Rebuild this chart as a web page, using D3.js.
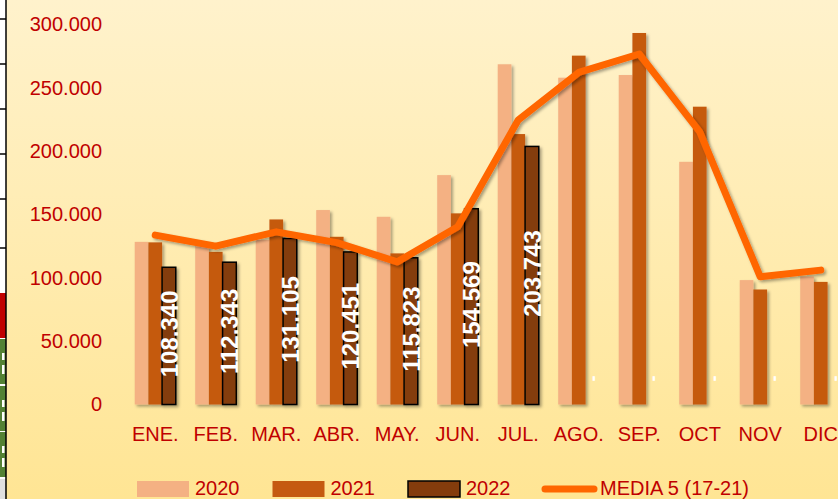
<!DOCTYPE html>
<html>
<head>
<meta charset="utf-8">
<script src="https://cdn.jsdelivr.net/npm/d3@7"></script>
<style>
  body { margin: 0; padding: 0; overflow: hidden; }
  svg { display: block; font-family: "Liberation Sans", Arial, sans-serif; }
</style>
</head>
<body>
<svg id="chart" width="838" height="499"></svg>
<script>
// data
const months = ['ENE.', 'FEB.', 'MAR.', 'ABR.', 'MAY.', 'JUN.', 'JUL.', 'AGO.', 'SEP.', 'OCT', 'NOV', 'DIC'];
const series = ['2020', '2021', '2022'];
const values2020 = [128400, 125000, 130000, 153500, 148200, 181100, 268600, 258000, 260100, 191600, 98200, 101000];
const values2021 = [128000, 120500, 146100, 132400, 119300, 150900, 213500, 275400, 293300, 235100, 90800, 96800];
const values2022 = [108340, 112343, 131105, 120451, 115823, 154569, 203743, null, null, null, null, null];
const media = [133700, 125000, 136300, 127800, 112600, 140300, 224600, 262200, 276700, 215300, 100800, 106100];
const mediaName = 'MEDIA 5 (17-21)';
const yTicks = [0, 50000, 100000, 150000, 200000, 250000, 300000];

const width = 838, height = 499;
const svg = d3.select('#chart');
const defs = svg.append('defs');

// background gradient
const grad = defs.append('linearGradient').attr('id', 'bg')
  .attr('x1', 0).attr('y1', 0).attr('x2', 0).attr('y2', 1);
grad.append('stop').attr('offset', '0%').attr('stop-color', '#fff2cc');
grad.append('stop').attr('offset', '100%').attr('stop-color', '#ffe594');

const shadow = defs.append('filter').attr('id', 'shadow')
  .attr('x', '-20%').attr('y', '-20%').attr('width', '160%').attr('height', '160%');
shadow.append('feDropShadow').attr('dx', 2).attr('dy', 2).attr('stdDeviation', 1.5)
  .attr('flood-color', '#000').attr('flood-opacity', 0.35);

svg.append('rect').attr('width', width).attr('height', height).attr('fill', 'url(#bg)');

// spreadsheet cells peeking in on the left edge
const strip = svg.append('g');
strip.append('rect').attr('width', 6).attr('height', height).attr('fill', '#fff');
[19, 64, 109, 154, 199, 248].forEach(y => {
  strip.append('line').attr('x1', 0).attr('x2', 6).attr('y1', y).attr('y2', y)
    .attr('stroke', '#000').attr('stroke-width', 1.5);
});
strip.append('rect').attr('y', 293).attr('width', 6).attr('height', 45).attr('fill', '#c00000');
[339, 386, 432].forEach(y => {
  strip.append('rect').attr('y', y).attr('width', 6).attr('height', 45).attr('fill', '#548235');
  // white glyph fragments cut by the edge
  strip.append('rect').attr('x', 2).attr('y', y + 14).attr('width', 2.5).attr('height', 7).attr('fill', '#fff');
  strip.append('rect').attr('x', 2).attr('y', y + 26).attr('width', 2.5).attr('height', 9).attr('fill', '#fff');
});
strip.append('rect').attr('y', 479).attr('width', 6).attr('height', 20).attr('fill', '#e0e0e0');
svg.append('line').attr('x1', 6).attr('x2', 6).attr('y1', 0).attr('y2', height)
  .attr('stroke', '#000').attr('stroke-width', 1.5);

// scales
const x = d3.scaleBand().domain(months).range([125, 851]).paddingInner(0).paddingOuter(0);
const xs = d3.scaleBand().domain(series).range([0, x.bandwidth()]).paddingInner(0).paddingOuter(0.71);
const y = d3.scaleLinear().domain([0, 300000]).range([404.5, 24.5]);

const loc = d3.formatLocale({ decimal: ',', thousands: '.', grouping: [3], currency: ['', ''] });
const fmt = loc.format(',');

// y axis labels
const yAxis = svg.append('g').attr('transform', 'translate(102,0)')
  .call(d3.axisLeft(y).tickValues(yTicks).tickFormat(fmt).tickSize(0).tickPadding(0));
yAxis.select('.domain').remove();
yAxis.selectAll('text').attr('fill', '#c00000').style('font-size', '20px')
  .style('font-family', '"Liberation Sans", Arial, sans-serif');

// x axis labels
const xAxis = svg.append('g').attr('transform', 'translate(0,405)')
  .call(d3.axisBottom(x).tickSize(0).tickPadding(22));
xAxis.select('.domain').remove();
xAxis.selectAll('text').attr('fill', '#c00000').style('font-size', '20px')
  .style('font-family', '"Liberation Sans", Arial, sans-serif');

// baseline
svg.append('line').attr('x1', 125).attr('x2', width).attr('y1', y(0) + 0.5).attr('y2', y(0) + 0.5)
  .attr('stroke', '#e6e6e6').attr('stroke-width', 1.5).attr('filter', 'url(#shadow)');

const colors = { '2020': '#f4b183', '2021': '#c55a11', '2022': '#843c0c' };
const rows = months.map((m, i) => ({ m, i, '2020': values2020[i], '2021': values2021[i], '2022': values2022[i] }));

// bars
const groups = svg.append('g').selectAll('g').data(rows).enter().append('g')
  .attr('transform', d => `translate(${x(d.m)},0)`);

groups.selectAll('rect')
  .data(d => series.filter(s => d[s] != null).map(s => ({ s, v: d[s] })))
  .enter().append('rect')
  .attr('x', d => xs(d.s))
  .attr('y', d => y(d.v))
  .attr('width', xs.bandwidth())
  .attr('height', d => y(0) - y(d.v))
  .attr('fill', d => colors[d.s])
  .attr('stroke', d => d.s === '2022' ? '#000' : 'none')
  .attr('stroke-width', 1.5)
  .attr('filter', 'url(#shadow)');

// 2022 data labels (rotated, white); empty months show a dash
groups.append('text')
  .attr('transform', d => {
    const cx = xs('2022') + xs.bandwidth() / 2;
    const cy = d['2022'] != null ? (y(d['2022']) + y(0)) / 2 - 2 : y(0) - 26;
    return `translate(${cx},${cy}) rotate(-90)`;
  })
  .attr('text-anchor', 'middle')
  .attr('dy', '0.36em')
  .attr('fill', '#fff')
  .style('font-size', d => d['2022'] != null ? '24px' : '18px')
  .style('font-weight', 'bold')
  .text(d => d['2022'] != null ? fmt(d['2022']) : '-');

// media line
const line = d3.line()
  .x((d, i) => x(months[i]) + x.bandwidth() / 2)
  .y(d => y(d));
svg.append('path').datum(media)
  .attr('d', line)
  .attr('fill', 'none')
  .attr('stroke', '#ff6600')
  .attr('stroke-width', 7)
  .attr('stroke-linejoin', 'round')
  .attr('stroke-linecap', 'round')
  .attr('filter', 'url(#shadow)');

// legend
const legend = svg.append('g');
series.forEach((s, i) => {
  const lx = 137 + i * 135.5;
  legend.append('rect').attr('x', lx).attr('y', 481).attr('width', 52).attr('height', 16)
    .attr('fill', colors[s])
    .attr('stroke', s === '2022' ? '#000' : 'none').attr('stroke-width', 1.5);
  legend.append('text').attr('x', lx + 58).attr('y', 495).attr('fill', '#c00000')
    .style('font-size', '20px').text(s);
});
legend.append('line').attr('x1', 545).attr('x2', 594).attr('y1', 489).attr('y2', 489)
  .attr('stroke', '#ff6600').attr('stroke-width', 7).attr('stroke-linecap', 'round');
legend.append('text').attr('x', 600).attr('y', 495).attr('fill', '#c00000')
  .style('font-size', '20px').text(mediaName);
</script>
</body>
</html>
